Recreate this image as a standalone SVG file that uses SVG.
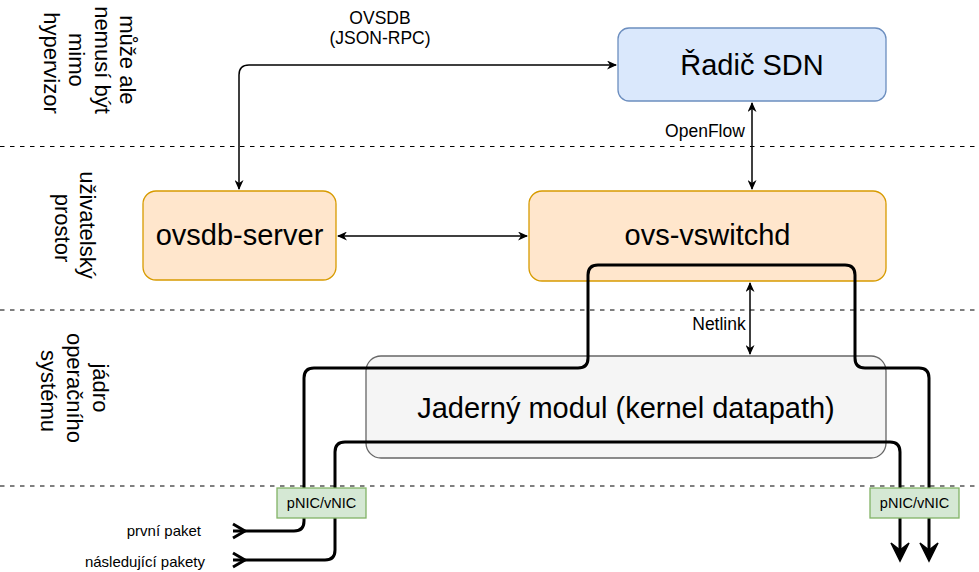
<svg xmlns="http://www.w3.org/2000/svg" width="979" height="572" viewBox="0 0 979 572">
  <style>
    text { font-family: "Liberation Sans", Arial, sans-serif; fill: #000; }
    .lane { stroke: #000; stroke-width: 1; stroke-dasharray: 4.5 5.5; fill: none; }
    .side { font-size: 22px; text-anchor: middle; }
    .big { font-size: 29px; text-anchor: middle; }
    .lbl { font-size: 17.5px; text-anchor: middle; }
    .nic { font-size: 14.5px; text-anchor: middle; }
    .pkt { font-size: 15px; text-anchor: end; }
    .orange { fill: #ffe6cc; stroke: #d79b00; stroke-width: 1.3; }
    .blue { fill: #dae8fc; stroke: #6c8ebf; stroke-width: 1.3; }
    .gray { fill: #f5f5f5; stroke: #666666; stroke-width: 1.3; }
    .green { fill: #d5e8d4; stroke: #82b366; stroke-width: 1.3; }
    .link { fill: none; stroke: #000; stroke-width: 1.5; }
    .flow { fill: none; stroke: #000; stroke-width: 3; stroke-linejoin: round; }
  </style>
  <defs>
    <marker id="arrow" viewBox="0 0 10 10" refX="9" refY="5" markerWidth="10" markerHeight="9" orient="auto-start-reverse" markerUnits="userSpaceOnUse" preserveAspectRatio="none">
      <path d="M0,0 L10,5 L0,10 L3,5 Z" fill="#000"/>
    </marker>
  </defs>

  <!-- layer separators -->
  <g id="lanes">
    <line class="lane" x1="0" y1="146.5" x2="979" y2="146.5"/>
    <line class="lane" x1="0" y1="310" x2="979" y2="310"/>
    <line class="lane" x1="0" y1="486" x2="979" y2="486"/>
  </g>

  <!-- layer captions -->
  <g id="caption-outside">
    <text class="side" transform="translate(0,63) rotate(90)">
      <tspan x="0" y="-120">může ale</tspan>
      <tspan x="0" y="-94.5">nemusí být</tspan>
      <tspan x="0" y="-69">mimo</tspan>
      <tspan x="0" y="-43.5">hypervizor</tspan>
    </text>
  </g>
  <g id="caption-user">
    <text class="side" transform="translate(0,228) rotate(90)">
      <tspan x="0" y="-80">uživatelský</tspan>
      <tspan x="0" y="-54.5">prostor</tspan>
    </text>
  </g>
  <g id="caption-kernel">
    <text class="side" transform="translate(0,391) rotate(90)">
      <tspan x="0" y="-93">jádro</tspan>
      <tspan x="0" y="-67">operačního</tspan>
      <tspan x="0" y="-41">systému</tspan>
    </text>
  </g>

  <!-- nodes -->
  <g id="controller">
    <rect class="blue" x="618" y="28" width="268" height="73" rx="11"/>
    <text class="big" x="752" y="75">Řadič SDN</text>
  </g>
  <g id="ovsdb-server">
    <rect class="orange" x="143" y="191" width="193" height="89" rx="13"/>
    <text class="big" x="239.5" y="245">ovsdb-server</text>
  </g>
  <g id="ovs-vswitchd">
    <rect class="orange" x="529" y="191" width="357" height="90" rx="13"/>
    <text class="big" x="707.5" y="245">ovs-vswitchd</text>
  </g>
  <g id="kernel-datapath">
    <rect class="gray" x="366" y="356" width="520" height="102" rx="15"/>
    <text class="big" x="626" y="418">Jaderný modul (kernel datapath)</text>
  </g>

  <!-- connectors -->
  <g id="connectors">
    <path class="link" d="M239,189 V75 Q239,65 249,65 H616" marker-start="url(#arrow)" marker-end="url(#arrow)"/>
    <text class="lbl" x="380" y="24">OVSDB</text>
    <text class="lbl" x="380" y="44">(JSON-RPC)</text>

    <line class="link" x1="752" y1="103" x2="752" y2="189" marker-start="url(#arrow)" marker-end="url(#arrow)"/>
    <text class="lbl" x="705" y="137">OpenFlow</text>

    <line class="link" x1="338" y1="236" x2="527" y2="236" marker-start="url(#arrow)" marker-end="url(#arrow)"/>

    <line class="link" x1="750" y1="283" x2="750" y2="354" marker-start="url(#arrow)" marker-end="url(#arrow)"/>
    <text class="lbl" x="719" y="330">Netlink</text>

    <!-- packet paths -->
    <path class="flow" d="M233,531 H294 Q304,531 304,521 V378 Q304,368 314,368 H578 Q588,368 588,358 V275 Q588,265 598,265 H845 Q855,265 855,275 V358 Q855,368 865,368 H919 Q929,368 929,378 V552"/>
    <path class="flow" d="M233,560 H325 Q335,560 335,550 V452 Q335,442 345,442 H890 Q900,442 900,452 V552"/>
    <polyline class="flow" points="233,524 245,531 233,538"/>
    <polyline class="flow" points="233,553 245,560 233,567"/>
    <path d="M891,543 L900,561 L909,543 L900,550 Z" fill="#000" stroke="#000" stroke-width="1.5"/>
    <path d="M920,543 L929,561 L938,543 L929,550 Z" fill="#000" stroke="#000" stroke-width="1.5"/>
    <text class="pkt" x="201" y="536">první paket</text>
    <text class="pkt" x="205" y="567">následující pakety</text>
  </g>

  <!-- interfaces -->
  <g id="nic-left">
    <rect class="green" x="277" y="488" width="89" height="30"/>
    <text class="nic" x="321.5" y="508">pNIC/vNIC</text>
  </g>
  <g id="nic-right">
    <rect class="green" x="870" y="488" width="89" height="30"/>
    <text class="nic" x="914.5" y="508">pNIC/vNIC</text>
  </g>
</svg>
